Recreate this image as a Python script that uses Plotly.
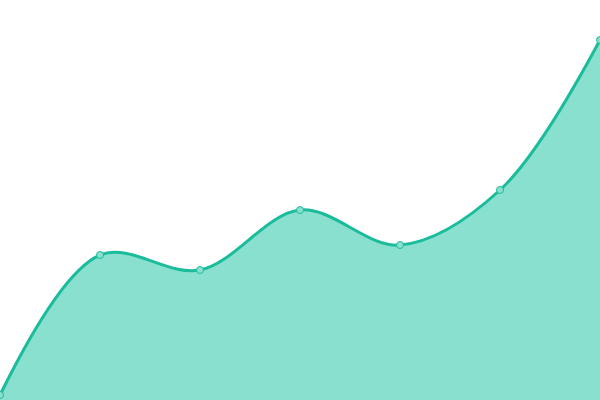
import plotly.graph_objects as go

x_vals = [0, 1, 2, 3, 4, 5, 6]
y_vals = [5, 145, 130, 190, 155, 210, 360]

line_color = "#1abc9c"
fill_color = "#8ae0cf"

fig = go.Figure()
fig.add_trace(go.Scatter(
    x=x_vals, y=y_vals,
    mode="lines+markers",
    line=dict(color=line_color, width=3, shape="spline", smoothing=1),
    marker=dict(size=7, color=fill_color, line=dict(color=line_color, width=1)),
    fill="tozeroy",
    fillcolor=fill_color,
    hoverinfo="x+y",
))

fig.update_layout(
    width=600, height=400,
    margin=dict(l=0, r=0, t=0, b=0),
    paper_bgcolor="white",
    plot_bgcolor="white",
    showlegend=False,
)
fig.update_xaxes(range=[0, 6], visible=False, fixedrange=True)
fig.update_yaxes(range=[0, 400], visible=False, fixedrange=True)

# drop the browser's default body margin so the chart fills the window
fig.write_html("out.html", config={"displayModeBar": False},
               post_script="document.body.style.margin='0';")
